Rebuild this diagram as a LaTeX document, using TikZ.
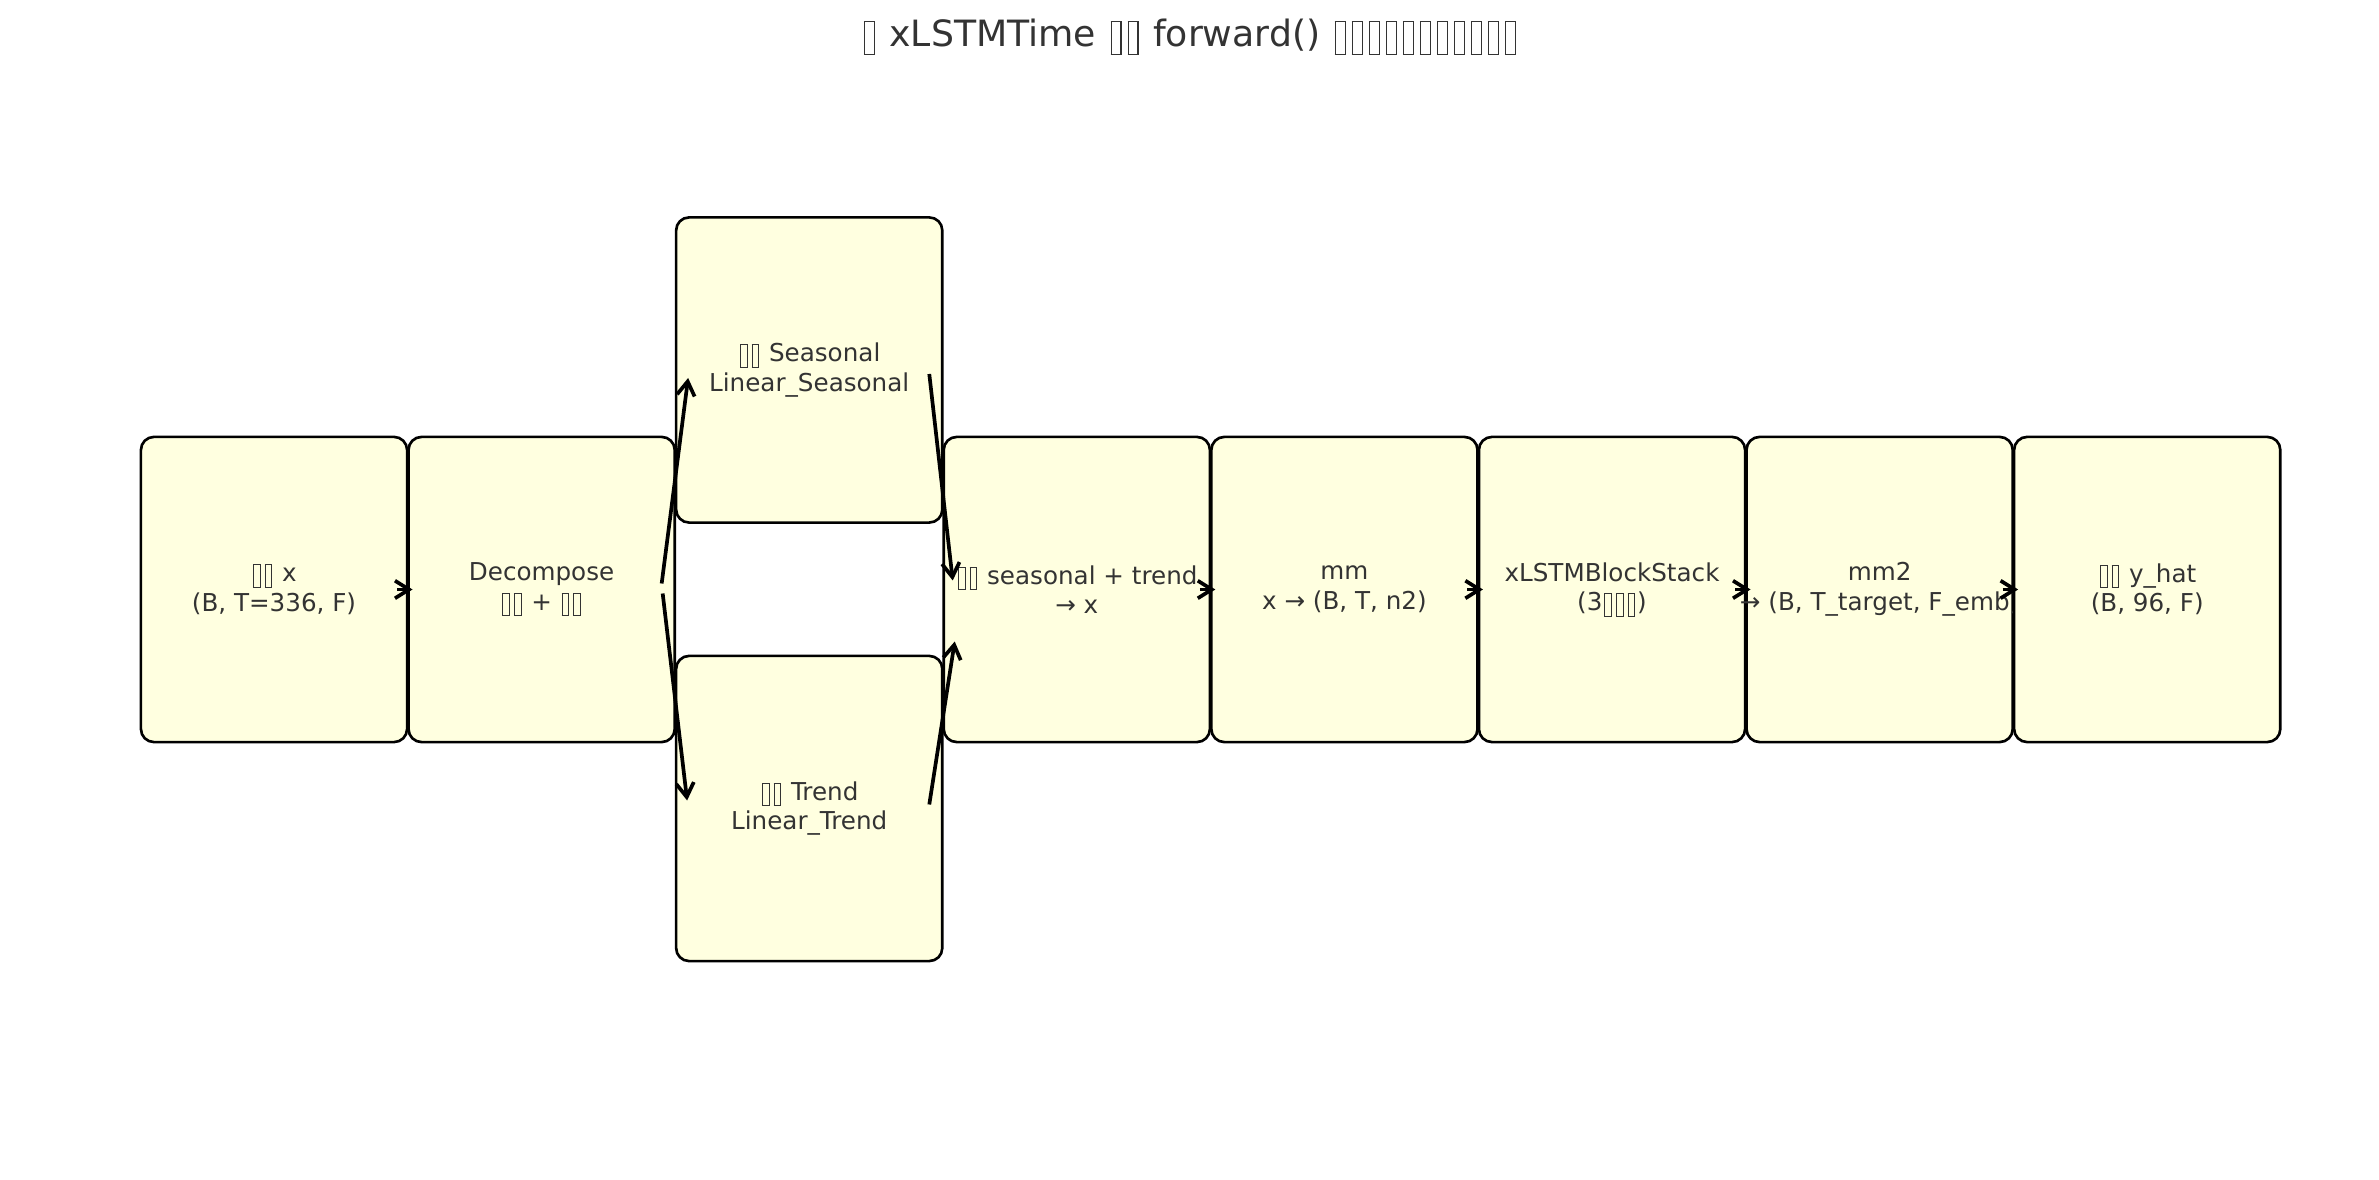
\documentclass[tikz,border=0pt]{standalone}
\usepackage{fontspec}
\setmainfont{DejaVu Sans}
\usetikzlibrary{arrows.meta,calc}
\definecolor{boxfill}{HTML}{FFFFE0}
\definecolor{txtgray}{HTML}{333333}
% empty glyph box, as printed for the missing CJK characters
\newcommand\tofu{\kern0.08em\raisebox{-0.2em}{\fboxsep=0pt\fboxrule=0.04em\fbox{\rule{0pt}{0.87em}\rule{0.23em}{0pt}}}\kern0.08em}
\newcommand\overhang[1]{\makebox[0pt]{#1}}

\begin{document}
\begin{tikzpicture}[x=0.01cm,y=-0.01cm,
	stage/.style={draw=black,line width=0.75pt,fill=boxfill,rounded corners=0.13cm,
		minimum width=2.66cm,minimum height=3.05cm,inner sep=0pt,outer sep=0pt,
		align=center,text=txtgray,font=\fontsize{7}{8.4}\selectfont},
	flow/.style={-{Straight Barb[length=4pt,width=5pt]},line width=1.05pt}]
	\useasboundingbox (0,0) rectangle (2379,1180);
	\node[text=txtgray,font=\fontsize{10.3}{12}\selectfont] (title) at (1190,37)
		{\tofu\ xLSTMTime \tofu\tofu\ forward() \tofu\tofu\tofu\tofu\tofu\tofu\tofu\tofu\tofu\tofu\tofu};
	% main row
	\node[stage] (inp) at (274,589.5) {\tofu\tofu\ x\\(B, T=336, F)};
	\node[stage] (dec) at (541.6,589.5) {Decompose\\\tofu\tofu\ + \tofu\tofu};
	\node[stage] (seas) at (809.2,370) {\tofu\tofu\ Seasonal\\Linear\_Seasonal};
	\node[stage] (trend) at (809.2,808.5) {\tofu\tofu\ Trend\\Linear\_Trend};
	\node[stage] (comb) at (1076.8,589.5) {\tofu\tofu\ seasonal + trend\\→ x};
	\node[stage] (mm) at (1344.4,589.5) {mm\\x → (B, T, n2)};
	\node[stage] (stack) at (1612,589.5) {xLSTMBlockStack\\(3\tofu\tofu\tofu)};
	\node[stage] (mmtwo) at (1879.6,589.5) {mm2\\\overhang{→ (B, T\_target, F\_emb)}};
	\node[stage] (out) at (2147.2,589.5) {\tofu\tofu\ y\_hat\\(B, 96, F)};
	% connectors
	\foreach \a/\b in {inp/dec,comb/mm,mm/stack,stack/mmtwo,mmtwo/out}
		\draw[flow] ($(\a.east)+(-10,0)$) -- ($(\b.west)+(4,0)$);
	\draw[flow] ($(dec.east)+(-13,-6)$) -- ($(seas.west)+(12,8)$);
	\draw[flow] ($(dec.east)+(-12,4)$) -- ($(trend.west)+(11,-8)$);
	\draw[flow] ($(seas.east)+(-13,4)$) -- ($(comb.west)+(9,-9)$);
	\draw[flow] ($(trend.east)+(-13,-4)$) -- ($(comb.west)+(11,52)$);
\end{tikzpicture}
\end{document}
